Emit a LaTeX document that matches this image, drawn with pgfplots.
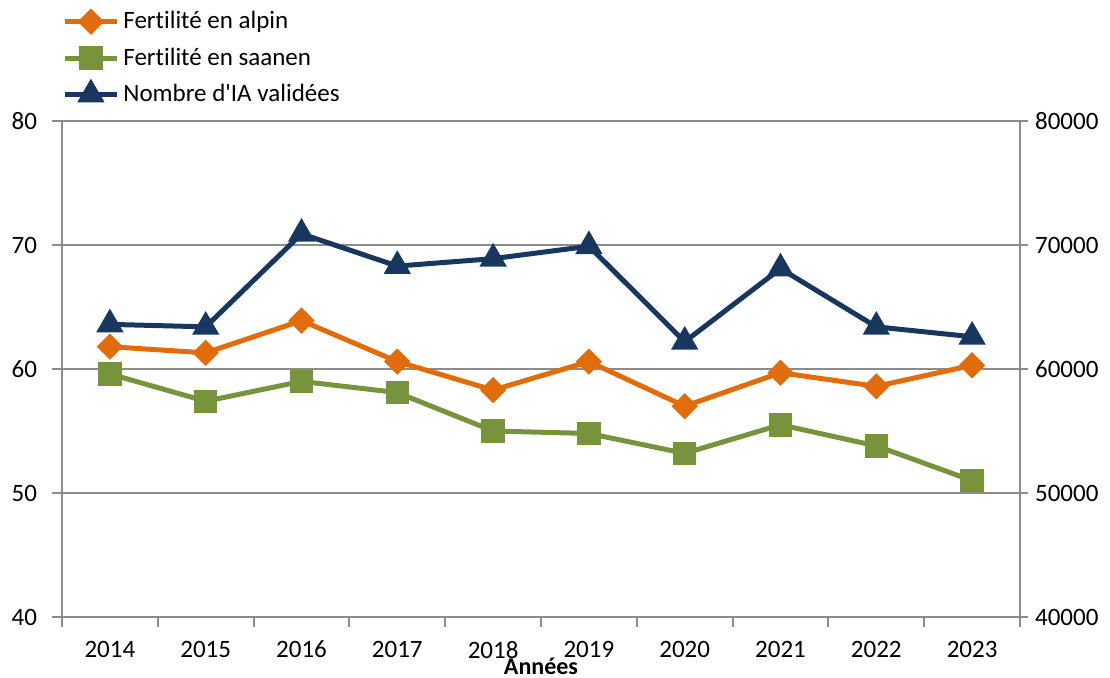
\documentclass[border=0pt]{standalone}
\usepackage{fontspec}
\setmainfont[Ligatures=NoCommon]{Carlito}
\newfontfamily\plainap{Carlito}
\usepackage{pgfplots}
\pgfplotsset{compat=1.18}
\definecolor{alpin}{HTML}{E36C0A}
\definecolor{saanen}{HTML}{77933C}
\definecolor{ia}{HTML}{17375E}
\definecolor{axgray}{HTML}{8C8C8C}
\pgfplotstableread{
x alpin saanen
0 61.8 59.6
1 61.3 57.4
2 63.9 59.0
3 60.6 58.1
4 58.3 55.0
5 60.6 54.8
6 57.0 53.2
7 59.7 55.5
8 58.6 53.8
9 60.3 51.0
}\fert
\pgfplotstableread{
x ia
0 63600
1 63400
2 70900
3 68300
4 68900
5 69900
6 62200
7 68100
8 63400
9 62600
}\iatab
\pgfplotsset{
  common/.style={
    scale only axis, width=479pt, height=248pt,
    xmin=-0.5, xmax=9.5,
    axis line style={axgray, line width=1pt},
    tick style={axgray, line width=1pt},
    tick align=outside,
    major tick length=4pt,
    tick label style={font=\fontsize{12.5}{14}\selectfont, black},
    /pgf/number format/assume math mode=true,
  },
}
\begin{document}
\begin{tikzpicture}
\begin{axis}[common,
  ymin=40, ymax=80, ytick={40,50,...,80},
  axis y line*=left, axis x line*=bottom,
  ymajorgrids, grid style={axgray, line width=1pt},
  xtick={-0.5,0.5,...,9.5}, xticklabels={},
  major tick length=5pt,
  extra x ticks={0,...,9},
  extra x tick labels={2014,2015,2016,2017,2018,2019,2020,2021,2022,2023},
  extra x tick style={tick style={draw=none}, xticklabel style={inner sep=0pt, yshift=-6.8pt}},
  yticklabel style={xshift=-4pt},
  xlabel={\bfseries Années},
  xlabel style={at={(axis description cs:0.5,0)}, anchor=base, inner sep=0pt, yshift=-28.6pt, font=\fontsize{12}{14}\selectfont},
  legend style={draw=none, fill=none, inner sep=0pt, at={(axis description cs:0,1)}, anchor=south west, yshift=6pt,
    font=\fontsize{12.5}{14}\selectfont, row sep=4pt, cells={anchor=west}},
  legend cell align=left,
  legend image code/.code={\draw[mark repeat=2,mark phase=2] plot coordinates {(0pt,0pt) (13pt,0pt) (26pt,0pt)};},
]
\addplot[alpin, line width=2.5pt, mark=square*, mark size=3.4pt, mark options={rotate=45, solid}] table[x=x, y=alpin] {\fert};
\addlegendentry{Fertilité en alpin}
\addplot[saanen, line width=2.5pt, mark=square*, mark size=4.6pt] table[x=x, y=saanen] {\fert};
\addlegendentry{Fertilité en saanen}
\addlegendimage{ia, line width=2.5pt, mark=triangle*, mark size=5.4pt}
\addlegendentry{Nombre d{\plainap'}IA validées}
\end{axis}
\begin{axis}[common,
  ymin=40000, ymax=80000, ytick={40000,50000,...,80000},
  axis y line*=right, axis x line=none,
  scaled y ticks=false,
  yticklabel style={/pgf/number format/1000 sep={}},
]
\addplot[ia, line width=2.5pt, mark=triangle*, mark size=5.4pt] table[x=x, y=ia] {\iatab};
\end{axis}
\pgfresetboundingbox
\useasboundingbox (-31pt,-30pt) rectangle (524pt,308.5pt);
\end{tikzpicture}
\end{document}
